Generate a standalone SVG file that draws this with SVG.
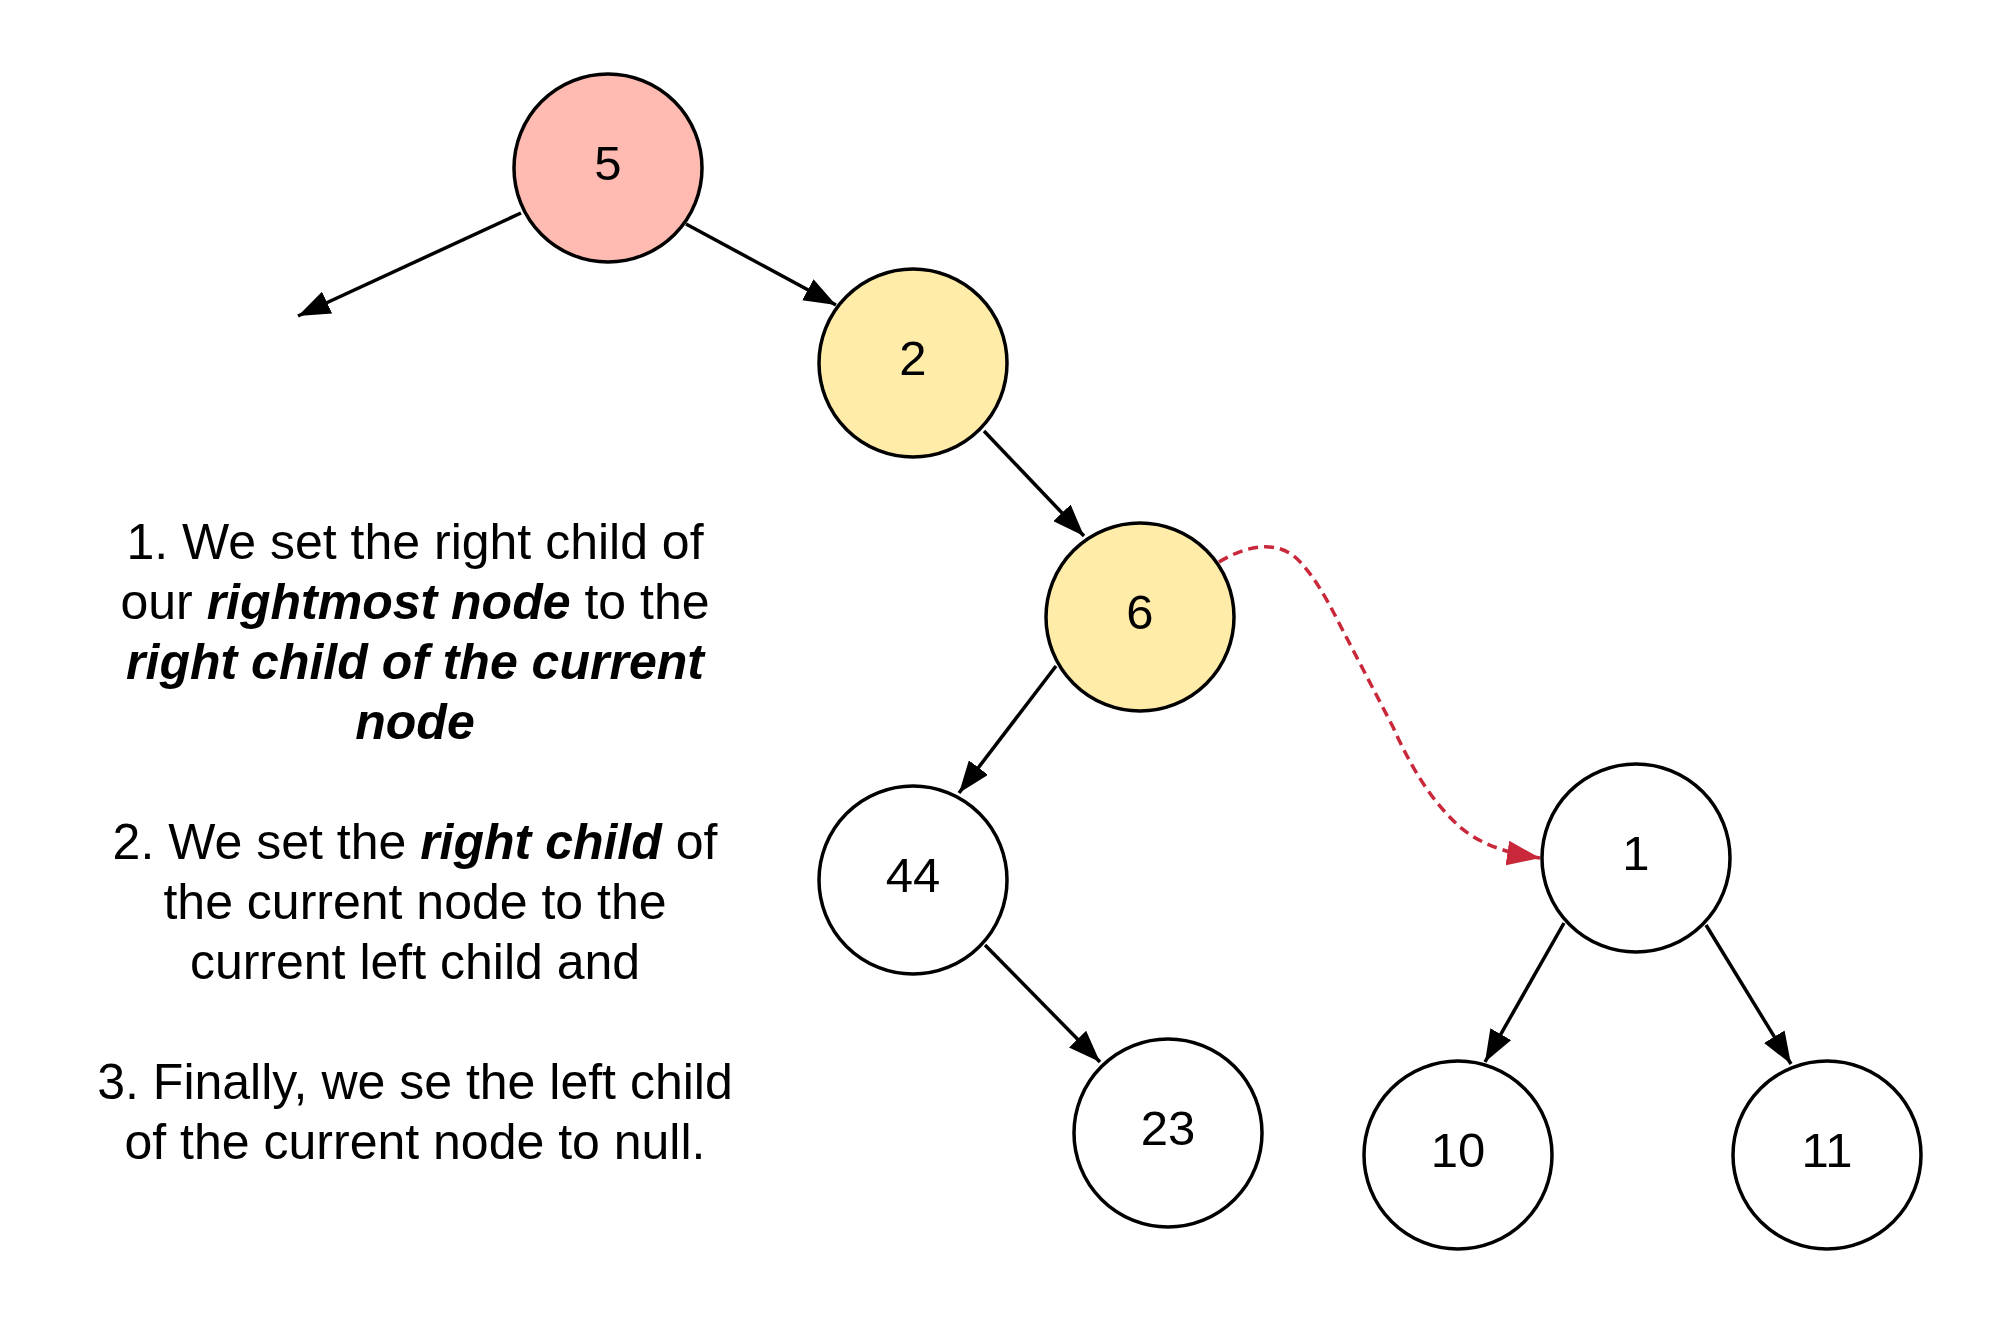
<svg xmlns="http://www.w3.org/2000/svg" width="1999" height="1326" viewBox="0 0 1999 1326">
<style>
.node{stroke:#000;stroke-width:3.5}
.lbl{font-family:"Liberation Sans",Arial,sans-serif;font-size:49px;text-anchor:middle;fill:#000}
.edge{stroke:#000;stroke-width:3.5;fill:none}
.dash{stroke:#C9283A;stroke-width:3.5;fill:none;stroke-dasharray:10 6}
.txt{font-family:"Liberation Sans",Arial,sans-serif;font-size:50px;text-anchor:middle;fill:#000}
.bi{font-weight:bold;font-style:italic}
</style>
<defs>
<marker id="ah" markerUnits="userSpaceOnUse" markerWidth="32" markerHeight="24" refX="32" refY="12" orient="auto" viewBox="0 0 32 24">
<path d="M0,0 L32,12 L0,24 z" fill="#000"/>
</marker>
<marker id="ahr" markerUnits="userSpaceOnUse" markerWidth="33" markerHeight="25" refX="33" refY="12.5" orient="auto" viewBox="0 0 33 25">
<path d="M0,0 L33,12.5 L0,25 z" fill="#C9283A"/>
</marker>
</defs>
<rect width="1999" height="1326" fill="#fff"/>
<g id="connectors">
<line class="edge" x1="521" y1="213" x2="298" y2="316" marker-end="url(#ah)"/>
<line class="edge" x1="686" y1="224" x2="836" y2="305" marker-end="url(#ah)"/>
<line class="edge" x1="984" y1="431" x2="1084" y2="536" marker-end="url(#ah)"/>
<line class="edge" x1="1056" y1="666" x2="959" y2="793" marker-end="url(#ah)"/>
<line class="edge" x1="985" y1="945" x2="1100" y2="1062" marker-end="url(#ah)"/>
<line class="edge" x1="1564" y1="923" x2="1485" y2="1062" marker-end="url(#ah)"/>
<line class="edge" x1="1706" y1="925" x2="1791" y2="1064" marker-end="url(#ah)"/>
<path class="dash" d="M1219,562 C1245,546 1275,540 1295,557 C1310,570 1325,595 1340,625 L1393,727 C1410,765 1430,800 1460,827 C1478,842 1500,852 1540,858" marker-end="url(#ahr)"/>
</g>
<g id="node5"><circle class="node" cx="608" cy="168" r="94" fill="#FFBBB1"/><text class="lbl" x="608" y="180">5</text></g>
<g id="node2"><circle class="node" cx="913" cy="363" r="94" fill="#FFECA9"/><text class="lbl" x="913" y="375">2</text></g>
<g id="node6"><circle class="node" cx="1140" cy="617" r="94" fill="#FFECA9"/><text class="lbl" x="1140" y="629">6</text></g>
<g id="node44"><circle class="node" cx="913" cy="880" r="94" fill="#fff"/><text class="lbl" x="913" y="892">44</text></g>
<g id="node1"><circle class="node" cx="1636" cy="858" r="94" fill="#fff"/><text class="lbl" x="1636" y="870">1</text></g>
<g id="node23"><circle class="node" cx="1168" cy="1133" r="94" fill="#fff"/><text class="lbl" x="1168" y="1145">23</text></g>
<g id="node10"><circle class="node" cx="1458" cy="1155" r="94" fill="#fff"/><text class="lbl" x="1458" y="1167">10</text></g>
<g id="node11"><circle class="node" cx="1827" cy="1155" r="94" fill="#fff"/><text class="lbl" x="1827" y="1167">11</text></g>
<g id="description">
<text class="txt" x="415" y="559">1. We set the right child of</text>
<text class="txt" x="415" y="619">our <tspan class="bi">rightmost node</tspan> to the</text>
<text class="txt bi" x="415" y="679">right child of the current</text>
<text class="txt bi" x="415" y="739">node</text>
<text class="txt" x="415" y="859">2. We set the <tspan class="bi">right child</tspan> of</text>
<text class="txt" x="415" y="919">the current node to the</text>
<text class="txt" x="415" y="979">current left child and</text>
<text class="txt" x="415" y="1099">3. Finally, we se the left child</text>
<text class="txt" x="415" y="1159">of the current node to null.</text>
</g>
</svg>
